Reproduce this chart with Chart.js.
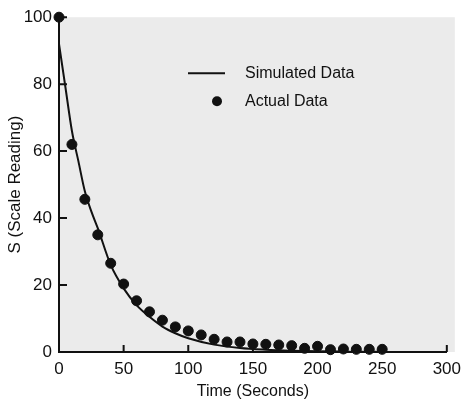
<!DOCTYPE html>
<html>
<head>
<meta charset="utf-8">
<script src="https://cdn.jsdelivr.net/npm/chart.js@4.4.0/dist/chart.umd.min.js"></script>
<style>
  html, body { margin: 0; padding: 0; background: #fff; }
  #wrap { width: 468px; height: 402px; position: relative; }
</style>
</head>
<body>
<div id="wrap"><canvas id="chart"></canvas></div>
<script>
// Courbe simulée
const simTimes = [0, 5, 10, 15, 20, 25, 30, 40, 50, 60, 70, 80, 90, 100, 120, 140, 160, 180, 200, 225, 250];
const simValues = [92, 79, 66, 57, 48, 42, 37, 26, 19, 14, 10.5, 7.6, 5.6, 4.1, 2.2, 1.2, 0.7, 0.4, 0.2, 0.1, 0.05];

// Points mesurés
const actualTimes = [0, 10, 20, 30, 40, 50, 60, 70, 80, 90, 100, 110, 120, 130, 140, 150, 160, 170, 180, 190, 200, 210, 220, 230, 240, 250];
const actualValues = [100, 62, 45.6, 35, 26.5, 20.3, 15.3, 12, 9.5, 7.5, 6.3, 5.1, 3.8, 3.0, 3.0, 2.4, 2.3, 2.1, 1.9, 1.1, 1.7, 0.7, 0.9, 0.8, 0.8, 0.8];

const xTicks = [0, 50, 100, 150, 200, 250, 300];
const yTicks = [0, 20, 40, 60, 80, 100];

const legendLabels = ['Simulated Data', 'Actual Data'];

const FONT = '"Liberation Sans", Arial, Helvetica, sans-serif';

// fond gris + graduations vers l'intérieur
const framePlugin = {
  id: 'frame',
  beforeDraw(chart) {
    const { ctx, chartArea: a } = chart;
    ctx.save();
    ctx.fillStyle = '#ebebeb';
    ctx.fillRect(a.left, a.top, a.right - a.left + 8, a.bottom - a.top);
    ctx.restore();
  },
  beforeDatasetsDraw(chart) {
    const { ctx, chartArea: a, scales } = chart;
    ctx.save();
    ctx.strokeStyle = '#111';
    ctx.lineWidth = 2;
    ctx.beginPath();
    xTicks.slice(1).forEach(v => {
      const px = scales.x.getPixelForValue(v);
      ctx.moveTo(px, a.bottom);
      ctx.lineTo(px, a.bottom - 7);
    });
    yTicks.slice(1).forEach(v => {
      const py = scales.y.getPixelForValue(v);
      ctx.moveTo(a.left, py);
      ctx.lineTo(a.left + 8, py);
    });
    ctx.stroke();
    ctx.restore();
  },
  afterDraw(chart) {
    const { ctx, chartArea: a } = chart;
    ctx.save();
    ctx.fillStyle = '#111';
    ctx.strokeStyle = '#111';
    ctx.lineWidth = 2;
    ctx.font = '16px ' + FONT;
    ctx.textBaseline = 'middle';
    // ligne
    ctx.beginPath();
    ctx.moveTo(a.left + 129, a.top + 56);
    ctx.lineTo(a.left + 166, a.top + 56);
    ctx.stroke();
    ctx.fillText(legendLabels[0], a.left + 186, a.top + 56);
    // point
    ctx.beginPath();
    ctx.arc(a.left + 158, a.top + 84, 5, 0, Math.PI * 2);
    ctx.fill();
    ctx.fillText(legendLabels[1], a.left + 186, a.top + 84);
    ctx.restore();
  }
};

new Chart(document.getElementById('chart'), {
  type: 'scatter',
  data: {
    datasets: [
      {
        type: 'line',
        label: legendLabels[0],
        data: simTimes.map((t, i) => ({ x: t, y: simValues[i] })),
        borderColor: '#111',
        borderWidth: 2,
        pointRadius: 0,
        cubicInterpolationMode: 'monotone',
        fill: false
      },
      {
        label: legendLabels[1],
        data: actualTimes.map((t, i) => ({ x: t, y: actualValues[i] })),
        backgroundColor: '#111',
        borderColor: '#111',
        pointRadius: 5,
        pointHoverRadius: 5,
        clip: false
      }
    ]
  },
  options: {
    responsive: true,
    maintainAspectRatio: false,
    animation: false,
    layout: { padding: { top: 13, right: 18, left: 0, bottom: 0 } },
    plugins: {
      legend: { display: false },
      tooltip: { enabled: false }
    },
    scales: {
      x: {
        type: 'linear',
        min: 0,
        max: 300,
        afterFit: s => { s.height = 50; },
        afterBuildTicks: s => { s.ticks = xTicks.map(v => ({ value: v })); },
        grid: { display: true, drawOnChartArea: false, drawTicks: false },
        border: { display: true, color: '#111', width: 2 },
        ticks: { color: '#111', padding: 7, maxRotation: 0, font: { family: FONT, size: 17 } },
        title: {
          display: true,
          text: 'Time (Seconds)',
          color: '#111',
          font: { family: FONT, size: 16, lineHeight: 1.2 },
          padding: { top: 0, bottom: 1 }
        }
      },
      y: {
        type: 'linear',
        min: 0,
        max: 100,
        afterFit: s => { s.width = 59; },
        afterBuildTicks: s => { s.ticks = yTicks.map(v => ({ value: v })); },
        grid: { display: true, drawOnChartArea: false, drawTicks: false },
        border: { display: true, color: '#111', width: 2 },
        ticks: { color: '#111', padding: 7, font: { family: FONT, size: 17 } },
        title: {
          display: true,
          text: 'S (Scale Reading)',
          color: '#111',
          font: { family: FONT, size: 17, lineHeight: 1.2 },
          padding: { top: 5, bottom: 0 }
        }
      }
    }
  },
  plugins: [framePlugin]
});
</script>
</body>
</html>
